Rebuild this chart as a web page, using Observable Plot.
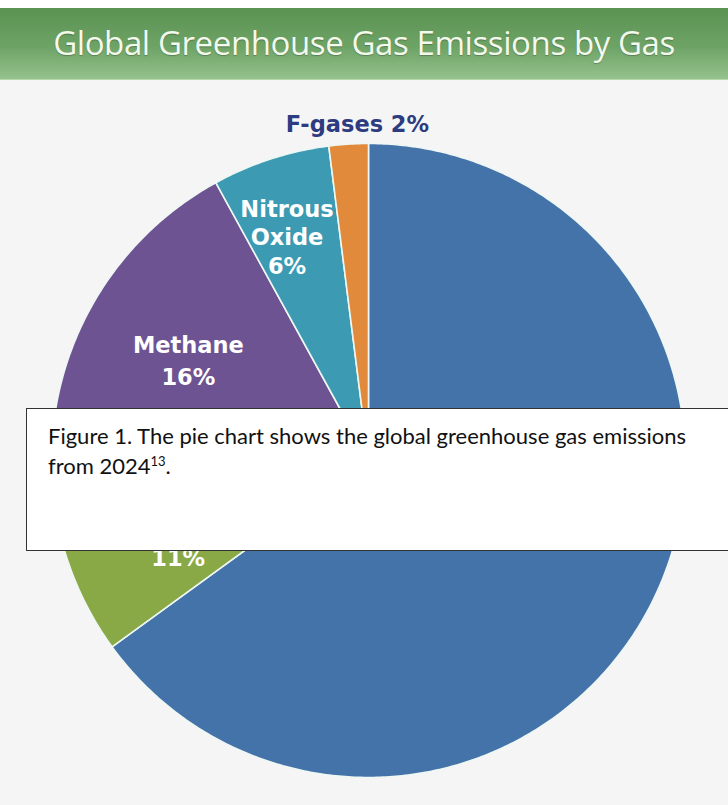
<!DOCTYPE html>
<html>
<head>
<meta charset="utf-8">
<script src="https://cdn.jsdelivr.net/npm/d3@7"></script>
<script src="https://cdn.jsdelivr.net/npm/@observablehq/plot@0.6"></script>
<style>
  html, body { margin: 0; padding: 0; }
  body { width: 728px; height: 805px; position: relative; overflow: hidden; background: #f5f5f5; }
  #top { position: absolute; left: 0; top: 0; width: 728px; height: 8px; background: #ffffff; }
  #banner {
    position: absolute; left: 0; top: 8px; width: 728px; height: 72px;
    background: linear-gradient(to bottom, #5a9352 0%, #6ea366 55%, #95c28d 100%);
    border-bottom: 1px solid #b5d8ad; box-sizing: border-box;
    color: #f3f9ec; font-family: "Open Sans", sans-serif; font-size: 33px;
    text-align: center; line-height: 70px; letter-spacing: -0.4px;
    text-shadow: 0 1px 1px rgba(0,0,0,0.25);
  }
  #chart { position: absolute; left: 0; top: 80px; }
  #caption {
    position: absolute; left: 26px; top: 408px; width: 740px; height: 143px;
    background: #ffffff; border: 1.5px solid #333; box-sizing: border-box;
    font-family: Lato, "Open Sans", sans-serif; font-size: 22px; color: #111;
    padding: 12px 0 0 21px; line-height: 30px;
  }
  #caption sup { font-size: 13px; vertical-align: 0; position: relative; top: -8px; }
</style>
</head>
<body>
<div id="top"></div>
<div id="banner">Global Greenhouse Gas Emissions by Gas</div>
<div id="chart"></div>
<div id="caption">Figure 1. The pie chart shows the global greenhouse gas emissions<br>from 2024<sup>13</sup>.</div>
<script>
// ---- data ----
const gases = [
  "Carbon Dioxide (Fossil Fuel and Industrial Processes)",
  "Carbon Dioxide (Forestry and Other Land Use)",
  "Methane",
  "Nitrous Oxide",
  "F-gases"
];
const shares = [65, 11, 16, 6, 2];
const sliceColors = ["#4473a9", "#89a947", "#6e5393", "#3c9bb2", "#e28a3b"];
const labelLines = [
  [],
  ["11%"],
  ["Methane", "16%"],
  ["Nitrous", "Oxide", "6%"],
  ["F-gases 2%"]
];

// ---- layout (code, not data) ----
const R = 317; // pixel radius
const labelLayout = [
  {r: 0.6, shift: 0, spacing: 30, color: "#ffffff"},
  {r: 0.675, shift: -11, spacing: 30, color: "#ffffff"},
  {r: 0.673, shift: 0, spacing: 32, color: "#ffffff"},
  {r: 0.832, shift: 0, spacing: 28.5, color: "#ffffff"},
  {r: 1.059, shift: 1.7, spacing: 28, color: "#2d3b80"}
];

const arcs = d3.pie().sort(null).value(d => d)(shares);

// slice outlines
const outline = [];
arcs.forEach((a, i) => {
  const n = Math.max(4, Math.ceil((a.endAngle - a.startAngle) / 0.01));
  outline.push({gas: gases[i], x: 0, y: 0});
  for (let k = 0; k <= n; k++) {
    const t = a.startAngle + (a.endAngle - a.startAngle) * k / n;
    outline.push({gas: gases[i], x: Math.sin(t), y: Math.cos(t)});
  }
});

// labels
const labels = [];
arcs.forEach((a, i) => {
  const L = labelLayout[i];
  const m = (a.startAngle + a.endAngle) / 2 + L.shift * Math.PI / 180;
  const x0 = L.r * Math.sin(m), y0 = L.r * Math.cos(m);
  labelLines[i].forEach((line, j) => {
    labels.push({text: line, x: x0, y: y0 - j * L.spacing / R, color: L.color});
  });
});

const chart = Plot.plot({
  width: 728,
  height: 725,
  marginLeft: 51,
  marginRight: 43,
  marginTop: 63,
  marginBottom: 28,
  style: {background: "transparent", overflow: "visible"},
  x: {domain: [-1, 1], axis: null},
  y: {domain: [-1, 1], axis: null},
  color: {domain: gases, range: sliceColors},
  marks: [
    Plot.line(outline, {
      x: "x", y: "y", z: "gas", fill: "gas",
      stroke: "#eef7f3", strokeWidth: 1.6, curve: "linear-closed"
    }),
    Plot.text(labels, {
      x: "x", y: "y", text: "text", fill: d => d.color,
      fontFamily: "DejaVu Sans", fontWeight: "bold", fontSize: 22.5,
      textAnchor: "middle", lineAnchor: "middle"
    })
  ]
});
document.getElementById("chart").appendChild(chart);
</script>
</body>
</html>
